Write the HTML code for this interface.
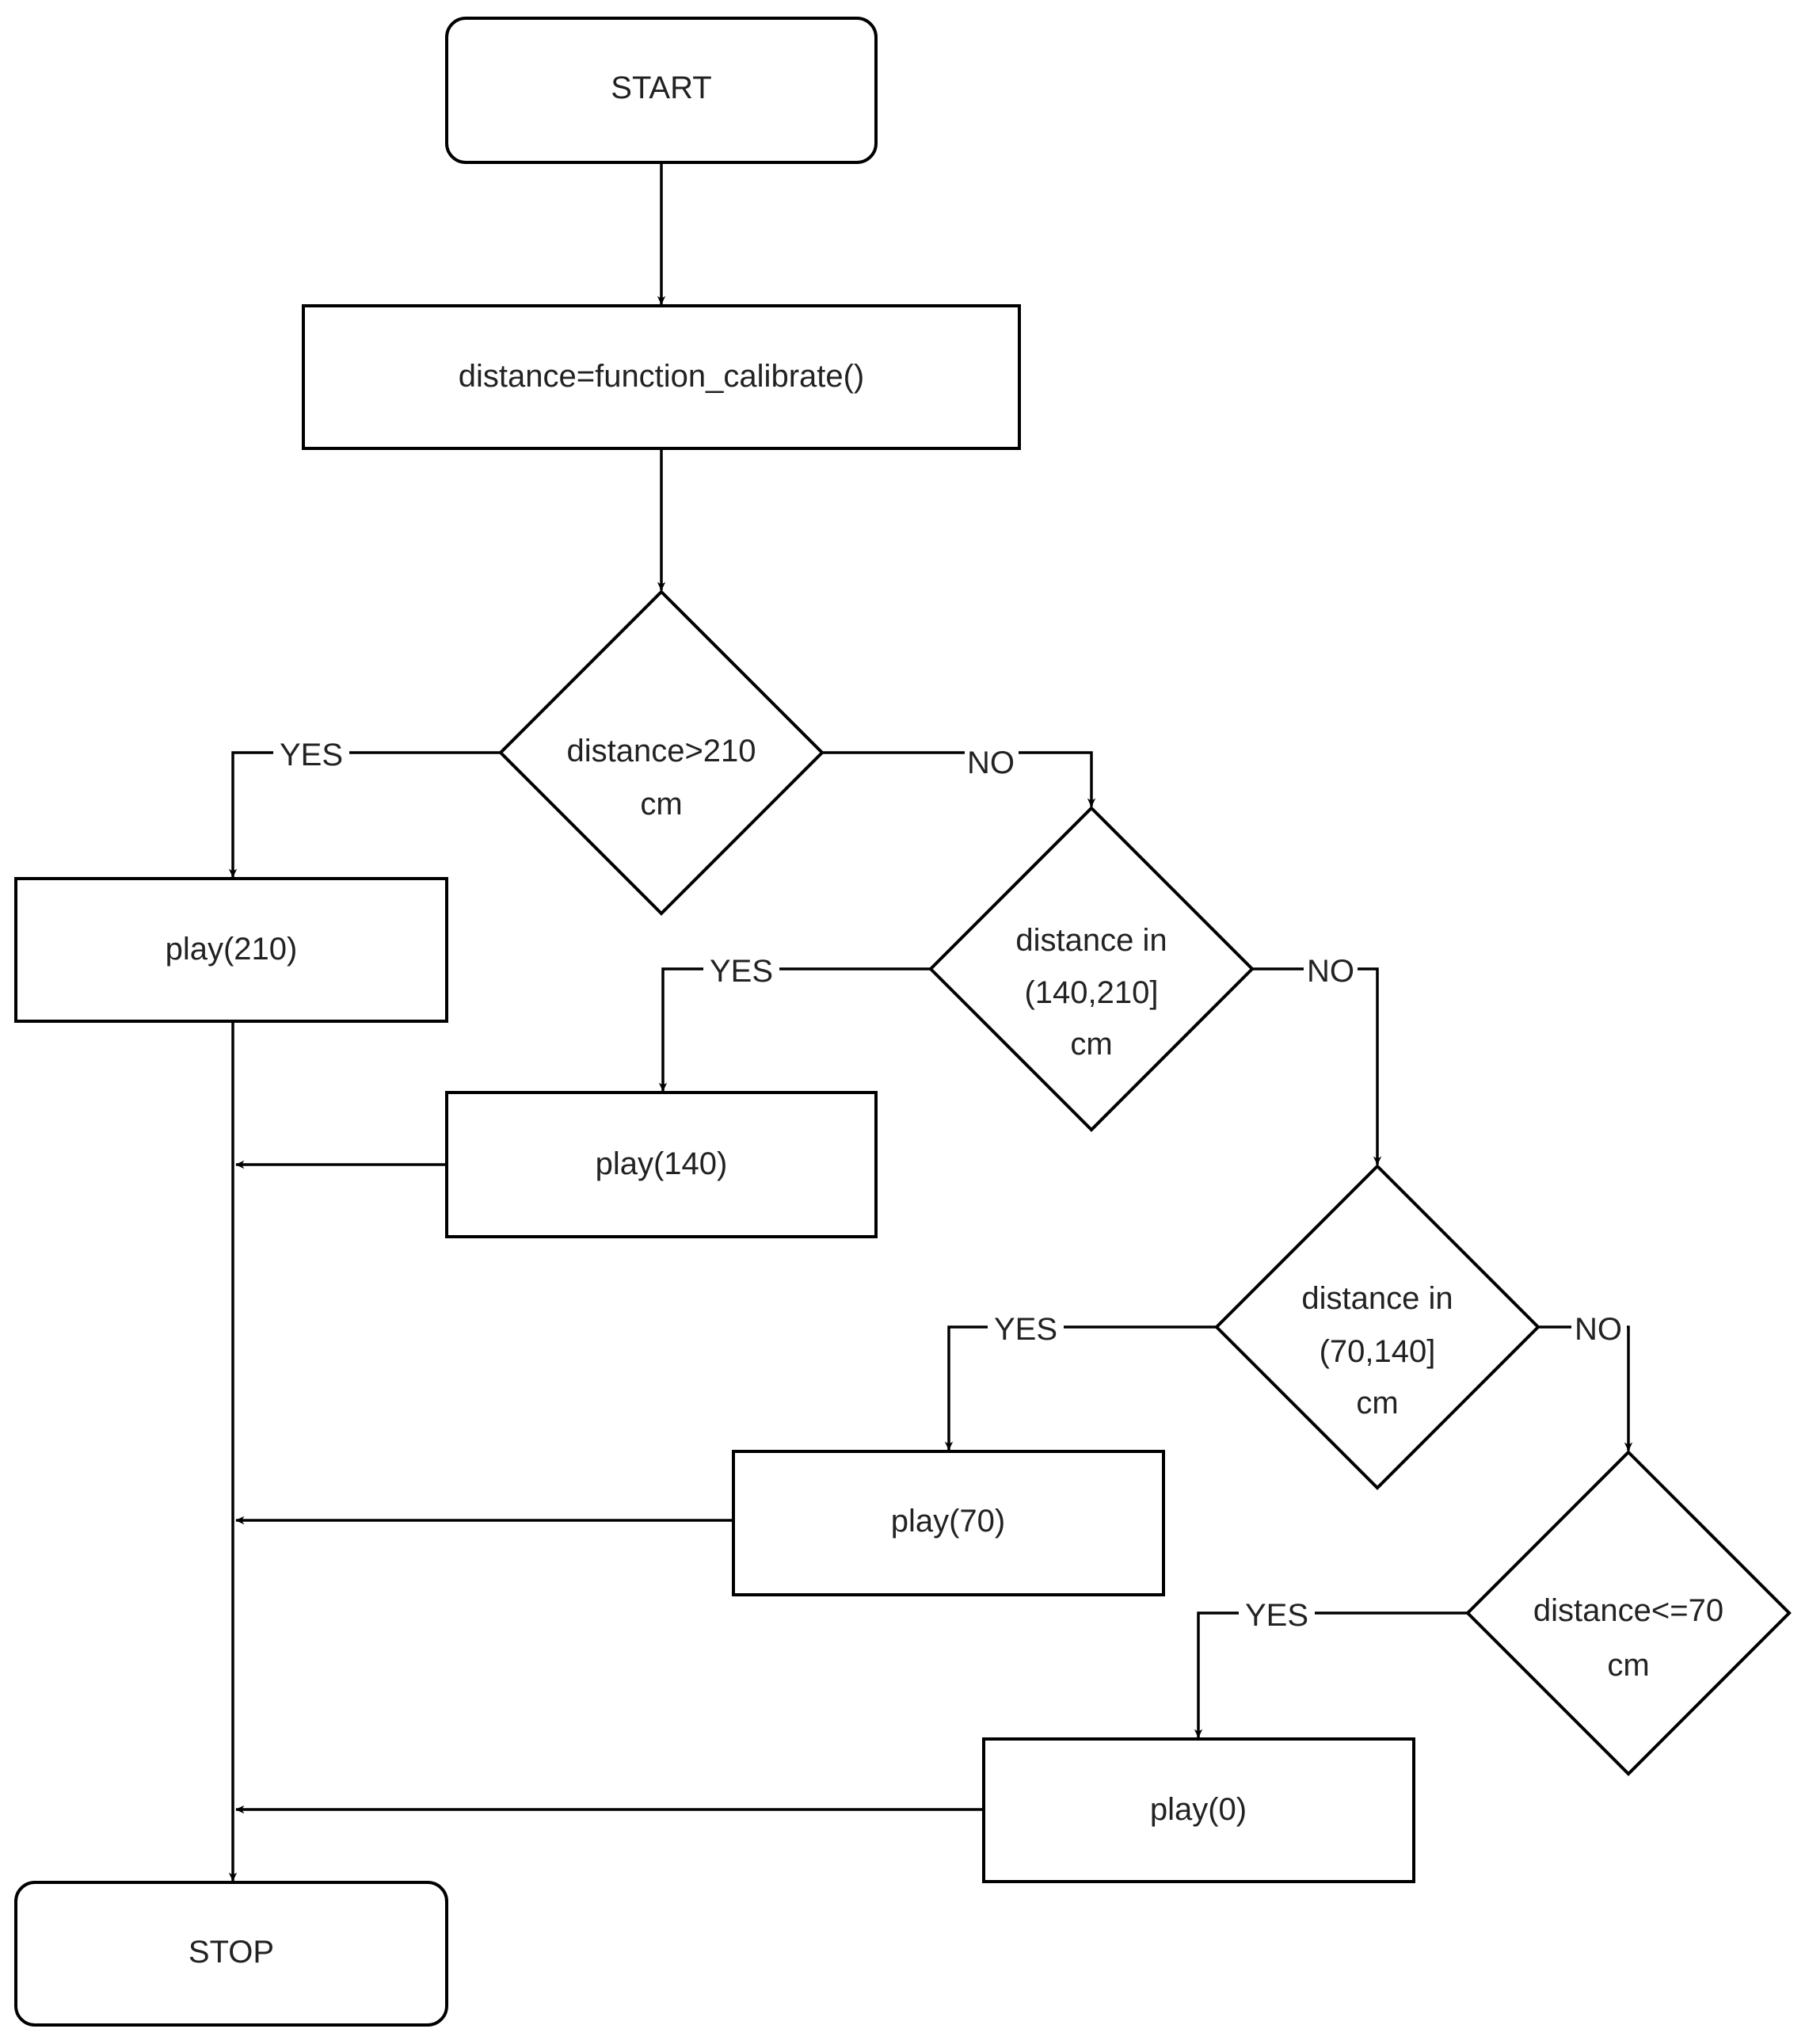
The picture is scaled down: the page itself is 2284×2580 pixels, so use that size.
<!DOCTYPE html>
<html><head><meta charset="utf-8"><style>
html,body{margin:0;padding:0;background:#fff}
svg text{font-family:"Liberation Sans",Arial,sans-serif;font-size:40px;fill:#222;text-anchor:middle;dominant-baseline:central}
</style></head><body>
<svg width="2284" height="2575" viewBox="0 0 2284 2575" xmlns="http://www.w3.org/2000/svg">
<defs>
<marker id="a" viewBox="0 0 20 20" refX="18" refY="10" markerWidth="8" markerHeight="8" markerUnits="userSpaceOnUse" orient="auto" style="overflow:visible">
<path d="M-8,-3 L20,10 L-8,23 L0,10 Z" fill="#000" transform="scale(1)"/>
</marker>
</defs>
<g fill="none" stroke="#000" stroke-width="4">
<rect x="564" y="23" width="542" height="182" rx="24"/>
<rect x="383" y="386" width="904" height="180"/>
<polygon points="835,747 1038,950 835,1153 632,950"/>
<rect x="20" y="1109" width="544" height="180"/>
<polygon points="1378,1020 1581,1223 1378,1426 1175,1223"/>
<rect x="564" y="1379" width="542" height="182"/>
<polygon points="1739,1472 1942,1675 1739,1878 1536,1675"/>
<rect x="926" y="1832" width="543" height="181"/>
<polygon points="2056,1833 2259,2036 2056,2239 1853,2036"/>
<rect x="1242" y="2195" width="543" height="180"/>
<rect x="20" y="2376" width="544" height="180" rx="24"/>
</g>
<g fill="none" stroke="#000" stroke-width="3.5" marker-end="url(#a)">
<path d="M835,205 V384"/>
<path d="M835,566 V745"/>
<path d="M632,950 H294 V1107"/>
<path d="M1038,950 H1378 V1018"/>
<path d="M1175,1223 H837 V1377"/>
<path d="M1581,1223 H1739 V1470"/>
<path d="M1536,1675 H1198 V1830"/>
<path d="M1942,1675 H2056 V1831"/>
<path d="M1853,2036 H1513 V2193"/>
<path d="M294,1289 V2374"/>
<path d="M564,1470 H298"/>
<path d="M926,1919 H298"/>
<path d="M1242,2284 H298"/>
</g>
<g fill="#fff">
<rect x="345" y="930" width="96" height="40"/>
<rect x="1218" y="940" width="68" height="40"/>
<rect x="888" y="1203" width="96" height="40"/>
<rect x="1646" y="1203" width="68" height="40"/>
<rect x="1247" y="1655" width="96" height="40"/>
<rect x="1984" y="1655" width="70" height="50"/>
<rect x="1564" y="2016" width="96" height="40"/>
</g>
<text x="835" y="111">START</text>
<text x="835" y="475">distance=function_calibrate()</text>
<text x="835" y="948">distance&gt;210</text>
<text x="835" y="1015">cm</text>
<text x="292" y="1198">play(210)</text>
<text x="1378" y="1187">distance in</text>
<text x="1378" y="1253">(140,210]</text>
<text x="1378" y="1318">cm</text>
<text x="835" y="1469">play(140)</text>
<text x="1739" y="1639">distance in</text>
<text x="1739" y="1706">(70,140]</text>
<text x="1739" y="1771">cm</text>
<text x="1197" y="1920">play(70)</text>
<text x="2056" y="2033">distance&lt;=70</text>
<text x="2056" y="2102">cm</text>
<text x="1513" y="2284">play(0)</text>
<text x="292" y="2464">STOP</text>
<text x="393" y="953">YES</text>
<text x="1251" y="963">NO</text>
<text x="936" y="1226">YES</text>
<text x="1680" y="1226">NO</text>
<text x="1295" y="1678">YES</text>
<text x="2018" y="1678">NO</text>
<text x="1612" y="2039">YES</text>
</svg>
</body></html>
